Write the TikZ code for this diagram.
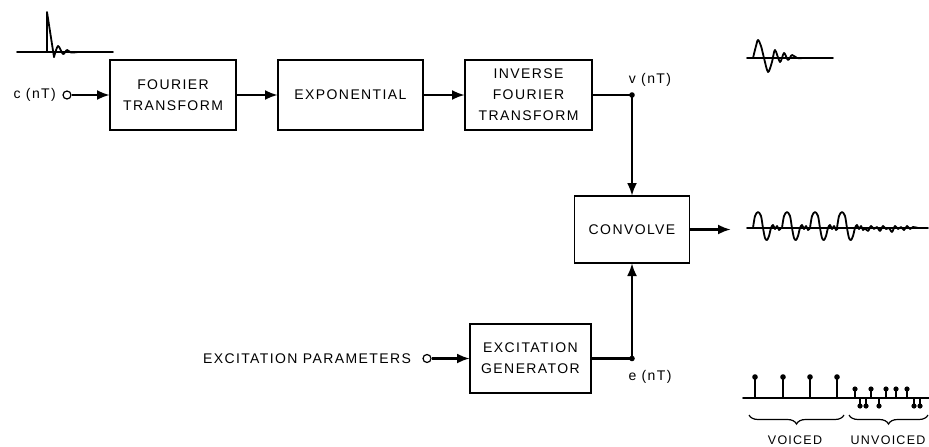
\documentclass[tikz,border=0pt]{standalone}
\usepackage{fontspec}
\setmainfont{Liberation Sans}[LetterSpace=10]
\usetikzlibrary{arrows.meta,positioning,decorations.pathreplacing}

\begin{document}
\begin{tikzpicture}[x=1pt,y=-1pt,
  block/.style={draw,line width=1.3pt,align=center,inner sep=0pt,outer sep=0pt,
    minimum height=70pt,font=\fontsize{14}{21}\selectfont},
  sig/.style={line width=2.6pt,-{Latex[length=13pt,width=10pt]}},
  port/.style={draw,circle,line width=1.2pt,inner sep=0pt,minimum size=8pt},
  lbl/.style={font=\fontsize{14}{16}\selectfont},
  wave/.style={line width=1.8pt,line join=round,line cap=round}]
  \useasboundingbox (0,0) rectangle (929,447);

  \node[block,minimum width=126pt] (ft) at (173,95) {FOURIER\\TRANSFORM};
  \node[block,minimum width=145pt] (expo) at (350.5,95) {EXPONENTIAL};
  \node[block,minimum width=127pt] (ift) at (528.5,95) {INVERSE\\FOURIER\\TRANSFORM};
  \node[block,minimum width=115pt,minimum height=67pt] (conv) at (632,229.5) {CONVOLVE};
  \node[block,minimum width=121pt,minimum height=69pt] (exgen) at (530.5,358.5) {EXCITATION\\GENERATOR};

  \node[port] (cin) at (67,95) {};
  \node[lbl,left=3pt of cin] (clbl) {c (nT)};
  \node[port] (exin) at (427,358.5) {};
  \node[lbl,left=8pt of exin] (exlbl) {EXCITATION PARAMETERS};

  \draw[sig] (cin) -- (ft);
  \draw[sig] (ft) -- (expo);
  \draw[sig] (expo) -- (ift);
  \draw[sig] (ift.east) -| (conv.north);
  \draw[sig] (exin) -- (exgen);
  \draw[sig] (exgen.east) -| (conv.south);
  \coordinate (out) at (731,229.5);
  \draw[sig] (conv.east) -- (out);

  \coordinate (vj) at (conv.north |- ift.east);
  \coordinate (ej) at (conv.south |- exgen.east);
  \fill (vj) circle (2.8pt);
  \fill (ej) circle (2.8pt);
  \node[lbl] (vlbl) at (650,80) {v (nT)};
  \node[lbl] (elbl) at (650,377) {e (nT)};

  \draw[wave] (17,52) -- (113,52);
  \draw[wave] (47,52) -- (47,12) -- (54,57);
  \draw[wave] plot[smooth] coordinates {(54,57) (58,46) (63,54) (67,50) (71,52.5) (78,52)};

  \draw[wave] (747,58) -- (833,58);
  \draw[wave] plot[smooth] coordinates {(753,58) (756,46) (758,40) (761,46) (764,58)
    (768,72) (772,62) (775,50) (780,62) (784,53) (788,60) (792,55) (797,58) (803,58)};

  \draw[wave] (747,228) -- (928,228);
  \foreach \p in {758,787,815,842}
    \draw[wave] plot[smooth] coordinates {(\p-5,228) (\p-3,216) (\p,212) (\p+3,216)
      (\p+5,228) (\p+7,238) (\p+9,240) (\p+11,236) (\p+13,228) (\p+15,225)
      (\p+17,229) (\p+19,226) (\p+21,230) (\p+23,228)};
  \draw[wave] plot[smooth] coordinates {(865,228) (868,231) (871,226) (874,229) (877,227)
    (880,231) (883,226) (886,229) (889,228) (892,232) (895,226) (898,229) (901,227)
    (904,230) (907,226) (910,229) (913,227) (918,228)};

  \draw[wave] (743,398) -- (929,398);
  \foreach \x in {755,783,810,837} {
    \draw[wave] (\x,398) -- (\x,377);
    \fill (\x,377) circle (2.8pt);
  }
  \foreach \x in {855,871,886,896,907} {
    \draw[wave] (\x,398) -- (\x,389);
    \fill (\x,389) circle (2.6pt);
  }
  \foreach \x in {860,866,879,914,920} {
    \draw[wave] (\x,398) -- (\x,406);
    \fill (\x,406) circle (2.6pt);
  }
  \draw[line width=1.2pt,decorate,decoration={brace,mirror,amplitude=9pt}] (749,415) -- (844,415);
  \draw[line width=1.2pt,decorate,decoration={brace,mirror,amplitude=9pt}] (849,415) -- (928,415);
  \node[lbl,font=\fontsize{12.5}{14}\selectfont] (voiced) at (795,440) {VOICED};
  \node[lbl,font=\fontsize{12.5}{14}\selectfont] (unvoiced) at (888,440) {UNVOICED};
\end{tikzpicture}
\end{document}
